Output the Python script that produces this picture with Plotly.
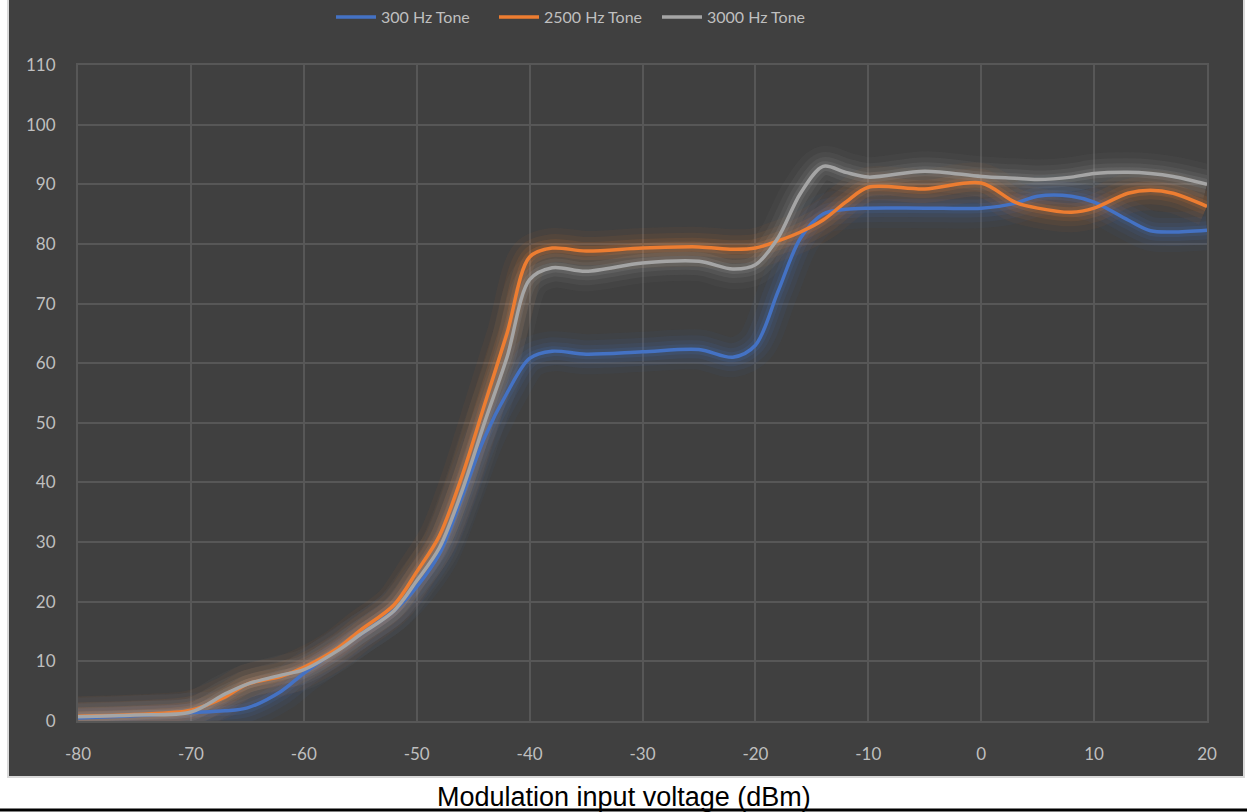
import plotly.graph_objects as go

x_dbm = [-80, -75, -70, -67, -65, -62, -60, -57, -55, -52, -50, -48, -46, -44, -42, -40, -38, -35,
         -30, -25, -22, -20, -18, -16, -14, -12, -10, -5, 0, 3, 5, 8, 10, 13, 15, 17, 20]
tone_300 = [0.5, 0.9, 1.4, 1.7, 2.2, 5.0, 8.0, 12.0, 14.5, 18.5, 22.5, 28.0, 37.5, 47.5, 55.0, 60.8, 62.0, 61.5,
            61.9, 62.3, 61.0, 63.0, 72.0, 81.0, 85.0, 85.8, 86.0, 86.0, 86.0, 86.8, 88.0, 88.0, 87.0, 84.0, 82.2, 82.0, 82.3]
tone_2500 = [0.8, 1.1, 1.8, 4.0, 6.2, 7.5, 9.0, 12.2, 15.2, 19.5, 25.0, 31.0, 41.0, 53.0, 65.0, 77.8, 79.3, 78.8,
             79.3, 79.5, 79.1, 79.3, 80.5, 82.0, 84.0, 87.0, 89.5, 89.2, 90.2, 87.0, 86.0, 85.3, 86.0, 88.5, 89.0, 88.5, 86.3]
tone_3000 = [0.7, 1.0, 1.5, 4.5, 6.2, 7.7, 8.6, 11.8, 14.5, 18.5, 23.5, 29.0, 38.5, 50.0, 61.0, 74.0, 76.0, 75.4,
             76.8, 77.1, 75.8, 76.5, 81.0, 88.5, 93.0, 92.0, 91.2, 92.2, 91.3, 91.0, 90.8, 91.2, 91.8, 92.0, 91.8, 91.3, 90.0]

series_names = ["300 Hz Tone", "2500 Hz Tone", "3000 Hz Tone"]
series_values = [tone_300, tone_2500, tone_3000]
series_colors = ["#4472C4", "#ED7D31", "#A5A5A5"]
glow_rgba = ["rgba(68,114,196,{a})", "rgba(237,125,49,{a})", "rgba(165,165,165,{a})"]

x_ticks = [-80, -70, -60, -50, -40, -30, -20, -10, 0, 10, 20]
y_ticks = [0, 10, 20, 30, 40, 50, 60, 70, 80, 90, 100, 110]

BG = "#404040"
GRID = "#575757"
TXT = "#BFBFBF"
FONT = "Lato"

fig = go.Figure()

# glow layers
for vals, g in zip(series_values, glow_rgba):
    for w, a in [(40, 0.05), (28, 0.07), (18, 0.10), (10, 0.15)]:
        fig.add_trace(go.Scatter(x=x_dbm, y=vals, mode="lines", showlegend=False, hoverinfo="skip",
                                 line=dict(color=g.format(a=a), width=w, shape="spline", smoothing=0.9)))

for name, vals, c in zip(series_names, series_values, series_colors):
    fig.add_trace(go.Scatter(x=x_dbm, y=vals, mode="lines", name=name,
                             line=dict(color=c, width=3.5, shape="spline", smoothing=0.9)))

W, H = 1247, 812
L, R, T, B = 78, 1207, 65, 721
pw, ph = R - L, B - T


def px_x(p):
    return (p - L) / pw


def px_y(p):
    return (B - p) / ph


shapes = [
    dict(type="rect", xref="paper", yref="paper", layer="below",
         x0=px_x(8), x1=px_x(1244), y0=px_y(777), y1=px_y(-2),
         fillcolor=BG, line=dict(color="#D9D9D9", width=2)),
    dict(type="line", xref="paper", yref="paper",
         x0=px_x(-5), x1=px_x(1252), y0=px_y(810), y1=px_y(810),
         line=dict(color="#000000", width=3)),
]

fig.update_layout(
    width=W, height=H,
    margin=dict(l=L, r=W - R, t=T, b=H - B, autoexpand=False),
    paper_bgcolor="#FFFFFF",
    plot_bgcolor=BG,
    font=dict(family=FONT, color=TXT, size=17),
    shapes=shapes,
    showlegend=True,
    legend=dict(orientation="h", x=px_x(331), xanchor="left", y=px_y(17), yanchor="middle",
                bgcolor="rgba(0,0,0,0)", font=dict(family=FONT, size=16, color=TXT),
                entrywidth=108, entrywidthmode="pixels", itemwidth=40, tracegroupgap=0),
    annotations=[dict(text="Modulation input voltage (dBm)", xref="paper", yref="paper",
                      x=px_x(624), y=px_y(797), xanchor="center", yanchor="middle", showarrow=False,
                      font=dict(family="Liberation Sans", size=27, color="#000000"))],
)

fig.update_xaxes(range=[-80, 20], tickvals=x_ticks, ticktext=[str(v) for v in x_ticks],
                 showgrid=True, gridcolor=GRID, gridwidth=2, zeroline=False,
                 showline=True, linecolor=GRID, linewidth=2, mirror=True,
                 ticks="", ticklabelstandoff=17, tickfont=dict(family=FONT, size=17, color=TXT))
fig.update_yaxes(range=[0, 110], tickvals=y_ticks, ticktext=[str(v) for v in y_ticks],
                 showgrid=True, gridcolor=GRID, gridwidth=2, zeroline=False,
                 showline=True, linecolor=GRID, linewidth=2, mirror=True,
                 ticks="", ticklabelstandoff=17, tickfont=dict(family=FONT, size=17, color=TXT))

fig.write_html("out.html", config={"displayModeBar": False},
               post_script="document.body.style.margin='0';document.body.style.overflow='hidden';")
